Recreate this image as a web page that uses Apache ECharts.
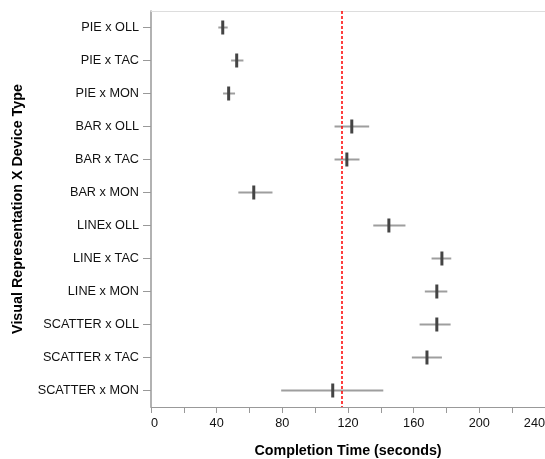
<!DOCTYPE html>
<html>
<head>
<meta charset="utf-8">
<script src="https://cdn.jsdelivr.net/npm/echarts@6/dist/echarts.min.js"></script>
<style>html,body{margin:0;padding:0;background:#fff}#c{width:545px;height:459px}</style>
</head>
<body>
<div id="c"></div>
<script>
var categories = ['PIE x OLL', 'PIE x TAC', 'PIE x MON', 'BAR x OLL', 'BAR x TAC', 'BAR x MON', 'LINEx OLL', 'LINE x TAC', 'LINE x MON', 'SCATTER x OLL', 'SCATTER x TAC', 'SCATTER x MON'];
var meanTime = [43.7, 52.2, 47.3, 122.3, 119.3, 62.6, 144.9, 177.2, 174.1, 174.1, 168.1, 110.7];
var lowTime = [41.0, 48.8, 43.9, 111.8, 111.8, 53.2, 135.4, 170.9, 166.8, 163.6, 158.9, 79.3];
var highTime = [46.7, 56.3, 51.2, 132.9, 127.0, 74.0, 155.0, 182.9, 180.5, 182.5, 177.2, 141.5];
var referenceTime = 116.2;
var xTicks = [0, 40, 80, 120, 160, 200, 240];

var chart = echarts.init(document.getElementById('c'), null, {renderer: 'canvas'});
var font = 'Liberation Sans, Arial, sans-serif';

var errData = categories.map(function (c, i) { return [lowTime[i], highTime[i], i]; });
var meanData = categories.map(function (c, i) { return [meanTime[i], i]; });

chart.setOption({
  animation: false,
  grid: {left: 151, right: 0, top: 11, bottom: 52, containLabel: false, outerBoundsMode: 'none'},
  xAxis: [{
    type: 'value', min: 0, max: 240, interval: 20,
    name: 'Completion Time (seconds)', nameLocation: 'middle', nameGap: 37,
    nameTextStyle: {fontFamily: font, fontWeight: 'bold', fontSize: 14.3, color: '#000'},
    axisLine: {show: true, lineStyle: {color: '#999', width: 1}},
    axisTick: {show: true, length: 6, lineStyle: {color: '#999'}},
    splitLine: {show: false},
    axisLabel: {
      margin: 10, fontFamily: font, fontSize: 12.7, color: '#111',
      alignMinLabel: 'left', alignMaxLabel: 'right',
      formatter: function (v) { return xTicks.indexOf(v) >= 0 ? String(v) : ''; }
    }
  }, {
    type: 'value', min: 0, max: 240, position: 'top',
    axisLine: {show: true, lineStyle: {color: '#ddd', width: 1}},
    axisTick: {show: false}, axisLabel: {show: false}, splitLine: {show: false}
  }],
  yAxis: {
    type: 'category', data: categories, inverse: true, boundaryGap: true,
    name: 'Visual Representation X Device Type', nameLocation: 'middle', nameGap: 126,
    nameTextStyle: {fontFamily: font, fontWeight: 'bold', fontSize: 14.3, color: '#000'},
    axisLine: {show: true, lineStyle: {color: '#999', width: 1.5}},
    axisTick: {show: true, alignWithLabel: true, length: 8, lineStyle: {color: '#999'}},
    axisLabel: {margin: 12, fontFamily: font, fontSize: 12.7, color: '#111'},
    splitLine: {show: false}
  },
  series: [
    {
      type: 'custom',
      data: errData,
      encode: {x: [0, 1], y: 2},
      renderItem: function (params, api) {
        var a = api.coord([api.value(0), api.value(2)]);
        var b = api.coord([api.value(1), api.value(2)]);
        return {type: 'line', shape: {x1: a[0], y1: a[1], x2: b[0], y2: b[1]},
          style: {stroke: '#9e9e9e', lineWidth: 2}};
      },
      z: 2
    },
    {
      type: 'custom',
      data: meanData,
      encode: {x: 0, y: 1},
      renderItem: function (params, api) {
        var p = api.coord([api.value(0), api.value(1)]);
        return {type: 'rect', shape: {x: p[0] - 1.5, y: p[1] - 7, width: 3, height: 14},
          style: {fill: '#444'}};
      },
      z: 3,
      markLine: {
        silent: true, symbol: 'none', label: {show: false},
        lineStyle: {color: '#ff0000', type: [3, 2], width: 1.5},
        data: [{xAxis: referenceTime}]
      }
    }
  ]
});
</script>
</body>
</html>
